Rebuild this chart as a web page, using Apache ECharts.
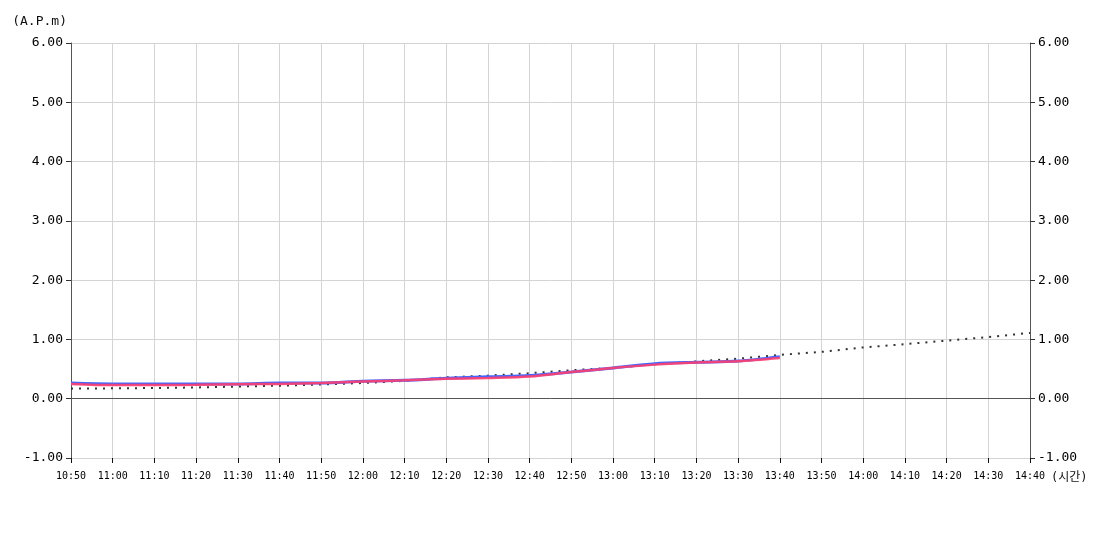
<!DOCTYPE html>
<html>
<head>
<meta charset="utf-8">
<script src="https://cdn.jsdelivr.net/npm/echarts@6/dist/echarts.min.js"></script>
<style>
  html, body { margin: 0; padding: 0; background: #fff; }
  #chart { width: 1100px; height: 550px; }
</style>
</head>
<body>
<div id="chart"></div>
<script>
// time slots, 10 minutes apart
const times = ["10:50", "11:00", "11:10", "11:20", "11:30", "11:40", "11:50", "12:00",
  "12:10", "12:20", "12:30", "12:40", "12:50", "13:00", "13:10", "13:20",
  "13:30", "13:40", "13:50", "14:00", "14:10", "14:20", "14:30", "14:40"];

const blueValues = [0.265, 0.25, 0.25, 0.25, 0.25, 0.265, 0.265, 0.295,
  0.31, 0.345, 0.37, 0.39, 0.45, 0.52, 0.59, 0.615, 0.635, 0.71];

const redValues = [0.25, 0.23, 0.23, 0.235, 0.245, 0.25, 0.265, 0.29,
  0.31, 0.335, 0.35, 0.375, 0.45, 0.52, 0.575, 0.61, 0.63, 0.685];

const dottedValues = [0.17, 0.175, 0.18, 0.19, 0.205, 0.22, 0.24, 0.265,
  0.30, 0.36, 0.39, 0.43, 0.48, 0.52, 0.58, 0.63, 0.675, 0.74,
  0.79, 0.865, 0.92, 0.98, 1.04, 1.11];

const yTicks = { min: -1, max: 6, interval: 1 };

const mono = "'DejaVu Sans Mono', 'Noto Sans CJK KR', monospace";

const chart = echarts.init(document.getElementById("chart"));

function yAxis(pos) {
  return {
    type: "value",
    position: pos,
    min: yTicks.min,
    max: yTicks.max,
    interval: yTicks.interval,
    name: pos === "left" ? "(A.P.m)" : "",
    nameLocation: "end",
    nameGap: 15,
    nameTextStyle: { fontFamily: mono, fontSize: 13, color: "#111", align: "right", padding: [0, 4, 0, 0] },
    axisLine: { show: true, lineStyle: { color: "#555", width: 1 } },
    axisTick: { show: true, length: 5, lineStyle: { color: "#333" } },
    axisLabel: {
      fontFamily: mono,
      fontSize: 13,
      color: "#000",
      margin: 8,
      formatter: (v) => v.toFixed(2),
    },
    splitLine: { show: pos === "left", lineStyle: { color: "#d4d4d4", width: 1 } },
  };
}

chart.setOption({
  animation: false,
  backgroundColor: "#fff",
  grid: { left: 71, right: 70, top: 43, bottom: 92, containLabel: false },
  xAxis: {
    type: "category",
    data: times,
    boundaryGap: false,
    name: "(시간)",
    nameLocation: "end",
    nameGap: 4,
    nameTextStyle: { fontFamily: mono, fontSize: 12, color: "#111", verticalAlign: "top", padding: [14, 0, 0, 0] },
    axisLine: { show: false, onZero: false },
    axisTick: { show: true, length: 5, alignWithLabel: true, lineStyle: { color: "#111" } },
    axisLabel: { fontFamily: mono, fontSize: 10, color: "#000", margin: 13, interval: 0 },
    splitLine: { show: true, lineStyle: { color: "#d4d4d4", width: 1 } },
  },
  yAxis: [yAxis("left"), yAxis("right")],
  series: [
    {
      name: "forecast",
      type: "line",
      data: dottedValues,
      showSymbol: false,
      lineStyle: { color: "#333", width: 2, type: [2, 6] },
      z: 3,
      markLine: {
        silent: true,
        symbol: "none",
        label: { show: false },
        lineStyle: { color: "#555", width: 1, type: "solid" },
        data: [{ yAxis: 0 }],
      },
    },
    {
      name: "blue",
      type: "line",
      data: blueValues,
      smooth: 0.3,
      showSymbol: false,
      lineStyle: { color: "#4466ff", width: 3 },
      z: 4,
    },
    {
      name: "red",
      type: "line",
      data: redValues,
      smooth: 0.3,
      showSymbol: false,
      lineStyle: { color: "#ff3f6e", width: 2.5, opacity: 0.9 },
      z: 5,
    },
  ],
});
</script>
</body>
</html>
